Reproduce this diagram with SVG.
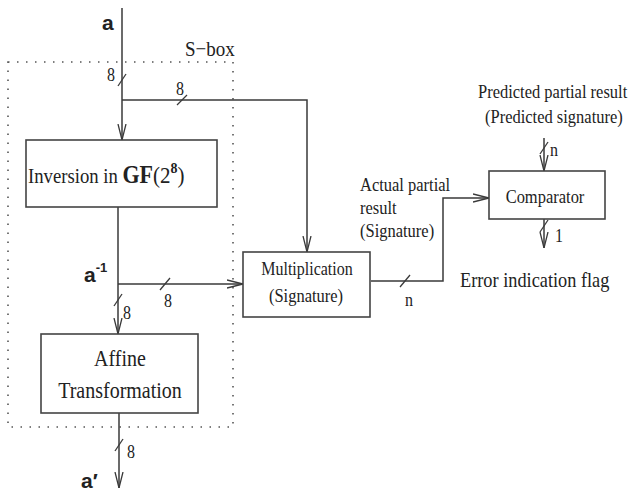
<svg xmlns="http://www.w3.org/2000/svg" width="631" height="494" viewBox="0 0 631 494">
<style>
.box{fill:#fff;stroke:#444;stroke-width:1.6}
.ln{fill:none;stroke:#3a3a3a;stroke-width:1.5}
.tk{stroke:#3a3a3a;stroke-width:1.3}
.t{font-family:"Liberation Serif","Times New Roman",serif;fill:#222}
.s{font-family:"Liberation Sans",Arial,sans-serif;font-weight:bold;fill:#222}
.dot{fill:none;stroke:#555;stroke-width:1.6;stroke-dasharray:1.5 7.5}
.m{text-anchor:middle}
</style>
<defs>
<marker id="arr" viewBox="0 0 16 10" refX="16" refY="5" markerWidth="16" markerHeight="10" markerUnits="userSpaceOnUse" orient="auto">
<path d="M0,1 L16,5 L0,9" fill="none" stroke="#3a3a3a" stroke-width="1.3"/>
</marker>
</defs>
<rect width="631" height="494" fill="#fff"/>

<g id="sbox">
<rect class="dot" x="8" y="62" width="225" height="365"/>
<text class="t" transform="translate(185,56) scale(1,1.12)" font-size="19">S−box</text>
</g>

<g id="connectors">
<path class="ln" d="M122,8 V140" marker-end="url(#arr)"/>
<path class="ln" d="M122,100 H307 V252" marker-end="url(#arr)"/>
<path class="ln" d="M118,207 V334" marker-end="url(#arr)"/>
<path class="ln" d="M118,284 H243" marker-end="url(#arr)"/>
<path class="ln" d="M119,413 V488" marker-end="url(#arr)"/>
<path class="ln" d="M371,281 H443 V198 H489" marker-end="url(#arr)"/>
<path class="ln" d="M544,138 V171" marker-end="url(#arr)"/>
<path class="ln" d="M544,219 V248" marker-end="url(#arr)"/>
<line class="tk" x1="118" y1="86" x2="126" y2="74"/>
<line class="tk" x1="177" y1="105" x2="187" y2="95"/>
<line class="tk" x1="160" y1="290" x2="170" y2="278"/>
<line class="tk" x1="114" y1="306" x2="122" y2="294"/>
<line class="tk" x1="115" y1="451" x2="123" y2="439"/>
<line class="tk" x1="400" y1="287" x2="410" y2="275"/>
<line class="tk" x1="540" y1="154" x2="548" y2="142"/>
<line class="tk" x1="540" y1="232" x2="548" y2="220"/>
</g>

<g id="labels">
<text class="s" x="102" y="30" font-size="21">a</text>
<text class="t" transform="translate(107,81) scale(1,1.12)" font-size="16">8</text>
<text class="t" transform="translate(176,95) scale(1,1.12)" font-size="16">8</text>
<text class="s" x="84" y="282" font-size="21">a<tspan font-size="13" dy="-10">-1</tspan></text>
<text class="t" transform="translate(164,307) scale(1,1.12)" font-size="16">8</text>
<text class="t" transform="translate(123,319) scale(1,1.12)" font-size="16">8</text>
<text class="t" transform="translate(127,458) scale(1,1.12)" font-size="16">8</text>
<text class="s" x="81" y="488" font-size="21">a′</text>
<text class="t" transform="translate(405,306) scale(1,1.12)" font-size="16">n</text>
<text class="t" transform="translate(550,156) scale(1,1.12)" font-size="16">n</text>
<text class="t" transform="translate(555,242) scale(1,1.12)" font-size="16">1</text>
<text class="t" transform="translate(478,98) scale(1,1.12)" font-size="16.5">Predicted partial result</text>
<text class="t" transform="translate(485,123) scale(1,1.12)" font-size="16.5">(Predicted signature)</text>
<text class="t" transform="translate(360,191) scale(1,1.12)" font-size="16.5">Actual partial</text>
<text class="t" transform="translate(360,214) scale(1,1.12)" font-size="16.5">result</text>
<text class="t" transform="translate(360,237) scale(1,1.12)" font-size="16.5">(Signature)</text>
<text class="t" transform="translate(460,287) scale(1,1.15)" font-size="18.3">Error indication flag</text>
</g>

<g id="inversion">
<rect class="box" x="26" y="140" width="191" height="67"/>
<text class="t" transform="translate(28,183) scale(1,1.1)" font-size="18.7">Inversion in <tspan font-weight="bold" font-size="22">GF</tspan><tspan font-size="21">(2</tspan><tspan font-weight="bold" font-size="14" dy="-9">8</tspan><tspan font-size="21" dy="9">)</tspan></text>
</g>

<g id="affine">
<rect class="box" x="41" y="334" width="157" height="79"/>
<text class="t m" transform="translate(120,366) scale(1,1.12)" font-size="20">Affine</text>
<text class="t m" transform="translate(120,398) scale(1,1.12)" font-size="20">Transformation</text>
</g>

<g id="multiplication">
<rect class="box" x="243" y="252" width="127" height="65"/>
<text class="t m" transform="translate(307,275) scale(1,1.12)" font-size="16">Multiplication</text>
<text class="t m" transform="translate(306,302) scale(1,1.12)" font-size="16.5">(Signature)</text>
</g>

<g id="comparator">
<rect class="box" x="489" y="171" width="116" height="48"/>
<text class="t m" transform="translate(545,203) scale(1,1.12)" font-size="16.5">Comparator</text>
</g>
</svg>
